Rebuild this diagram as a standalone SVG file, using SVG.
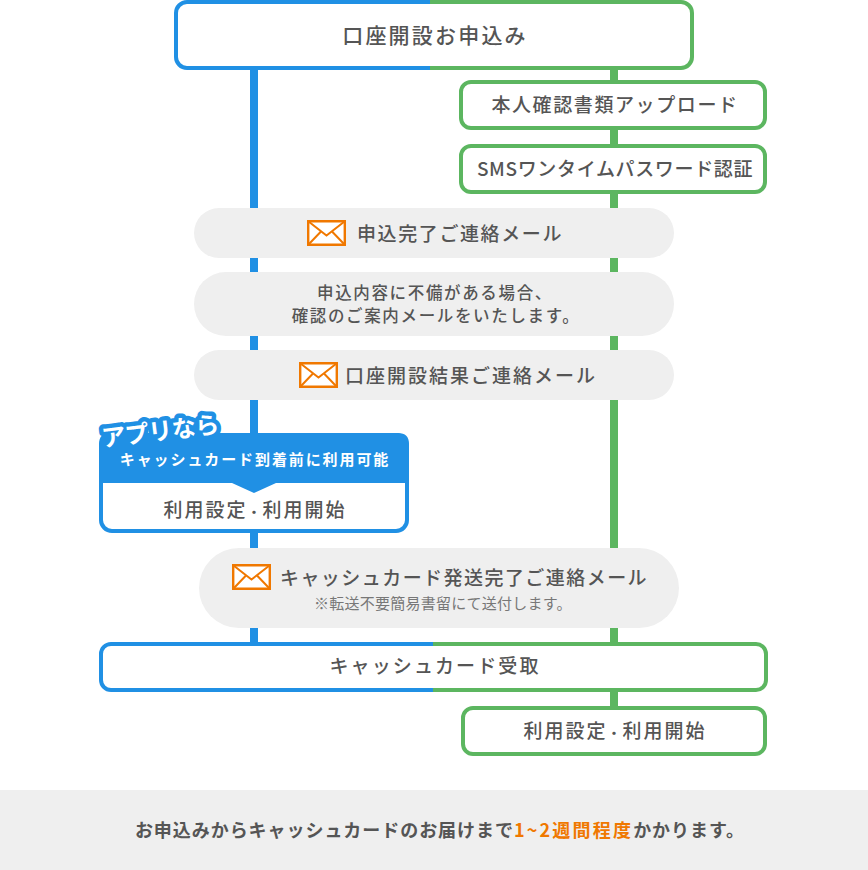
<svg xmlns="http://www.w3.org/2000/svg" width="868" height="870" viewBox="0 0 868 870">
<style>
text{font-family:"Noto Sans CJK JP","Noto Sans",sans-serif;font-weight:500;fill:#555;text-anchor:middle}
.t{font-size:19px;letter-spacing:1.6px}
.b{fill:#fff;stroke:#5cb660;stroke-width:4}
.p{fill:#efefef}
.l{stroke-width:8;fill:none}
.d{font-size:13px;font-weight:700}
</style>
<defs>
<linearGradient id="g1" gradientUnits="userSpaceOnUse" x1="174" y1="0" x2="694" y2="0"><stop offset="0.492" stop-color="#2090e4"/><stop offset="0.492" stop-color="#5cb660"/></linearGradient>
<linearGradient id="g2" gradientUnits="userSpaceOnUse" x1="99" y1="0" x2="768" y2="0"><stop offset="0.5" stop-color="#2090e4"/><stop offset="0.5" stop-color="#5cb660"/></linearGradient>
<symbol id="mail" viewBox="0 0 39 26" overflow="visible"><path d="M1.2 1.2H37.8V24.8H1.2Z" fill="#fff" stroke="#f07800" stroke-width="2.4"/><path d="M1.5 1.5L19.5 15.5L37.5 1.5M1.5 24.5L14 11.5M37.5 24.5L25 11.5" fill="none" stroke="#f07800" stroke-width="2"/></symbol>
</defs>
<g id="connectors">
<path class="l" stroke="#2090e4" d="M254 60V650"/>
<path class="l" stroke="#5cb660" d="M614 60V720"/>
</g>
<g id="n-apply"><rect x="176" y="2" width="516" height="66" rx="11" fill="#fff" stroke="url(#g1)" stroke-width="4"/><text x="435" y="43" style="font-size:21px;letter-spacing:2.2px">口座開設お申込み</text></g>
<g id="n-upload"><rect class="b" x="461" y="82" width="304" height="46" rx="10"/><text class="t" x="615" y="112">本人確認書類アップロード</text></g>
<g id="n-sms"><rect class="b" x="461" y="146" width="304" height="46" rx="10"/><text class="t" x="615" y="176" style="letter-spacing:.65px">SMSワンタイムパスワード認証</text></g>
<g id="n-mail1"><rect class="p" x="194" y="208" width="480" height="50" rx="25"/><use href="#mail" x="307" y="220" width="39" height="26"/><text class="t" x="460" y="241">申込完了ご連絡メール</text></g>
<g id="n-note"><rect class="p" x="194" y="272" width="480" height="64" rx="32"/><text x="435" y="299" style="font-size:16.5px;letter-spacing:1.65px">申込内容に不備がある場合、</text><text x="436" y="322" style="font-size:16.5px;letter-spacing:1.65px">確認のご案内メールをいたします。</text></g>
<g id="n-result"><rect class="p" x="194" y="350" width="480" height="50" rx="25"/><use href="#mail" x="299" y="362" width="39" height="26"/><text class="t" x="471" y="383" style="letter-spacing:2px">口座開設結果ご連絡メール</text></g>
<g id="n-app">
<rect x="101" y="435" width="306" height="96" rx="11" fill="#fff" stroke="#2090e4" stroke-width="4"/>
<path d="M99 483V444Q99 433 110 433H398Q409 433 409 444V483H276L254 493L232 483Z" fill="#2090e4"/>
<text x="255" y="465" style="font-size:15px;letter-spacing:1.9px;fill:#fff;font-weight:700">キャッシュカード到着前に利用可能</text>
<text class="t" x="255" y="517" style="letter-spacing:2px">利用設定<tspan class="d">・</tspan>利用開始</text>
<g transform="rotate(-7 160 430)"><text x="160" y="440" style="font-size:24px;font-weight:700;fill:#fff;stroke:#2090e4;stroke-width:9;stroke-linejoin:round;paint-order:stroke;letter-spacing:-.4px">アプリなら</text></g>
</g>
<g id="n-mail3"><rect class="p" x="199" y="548" width="480" height="80" rx="40"/><use href="#mail" x="232" y="564" width="39" height="26"/><text class="t" x="464" y="585" style="letter-spacing:1.45px">キャッシュカード発送完了ご連絡メール</text><text x="443" y="609" style="font-size:15px;font-weight:400;fill:#777;letter-spacing:.25px">※転送不要簡易書留にて送付します。</text></g>
<g id="n-receive"><rect x="101" y="644" width="665" height="46" rx="10" fill="#fff" stroke="url(#g2)" stroke-width="4"/><text class="t" x="435" y="673" style="letter-spacing:2.1px">キャッシュカード受取</text></g>
<g id="n-use"><rect class="b" x="463" y="708" width="302" height="46" rx="10"/><text class="t" x="615" y="738" style="letter-spacing:2px">利用設定<tspan class="d">・</tspan>利用開始</text></g>
<g id="n-footer"><rect x="0" y="790" width="868" height="80" fill="#efefef"/><text x="440" y="837" style="font-size:18px;font-weight:700;letter-spacing:.95px">お申込みからキャッシュカードのお届けまで<tspan fill="#f07800" style="letter-spacing:2.2px">1~2週間程度</tspan>かかります。</text></g>
</svg>
